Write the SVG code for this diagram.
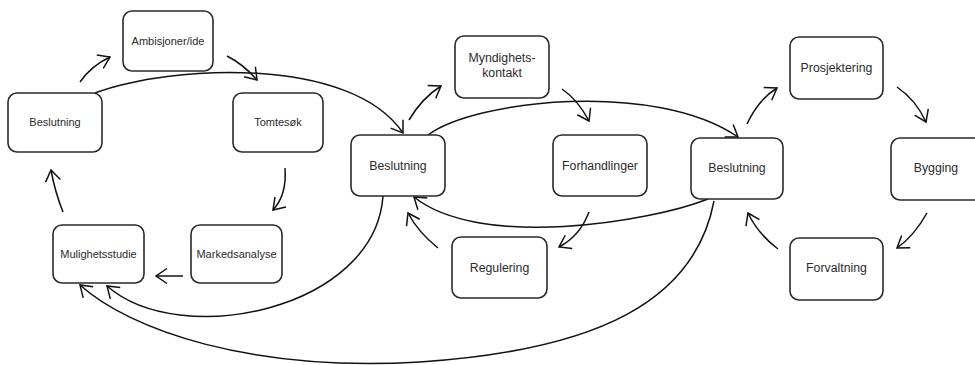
<svg xmlns="http://www.w3.org/2000/svg" width="975" height="365" viewBox="0 0 975 365">
  <defs>
    <style>
      .box { fill: #ffffff; stroke: #2a2a2a; stroke-width: 1.6; }
      .lbl { font-family: "Liberation Sans", Arial, sans-serif; fill: #2b2b2b; text-anchor: middle; }
      .sm { font-size: 11px; }
      .md { font-size: 12.3px; }
      .link { fill: none; stroke: #111111; stroke-width: 1.5; marker-end: url(#head); }
    </style>
    <marker id="head" viewBox="-13 -9 15 18" markerWidth="15" markerHeight="18" refX="0" refY="0" orient="auto" markerUnits="userSpaceOnUse" overflow="visible">
      <path d="M-11,-7.5 L0,0 L-11,7.5" fill="none" stroke="#111111" stroke-width="1.5" stroke-linejoin="miter"/>
    </marker>
  </defs>

  <rect width="975" height="365" fill="#ffffff"/>

  <!-- connectors -->
  <g id="connectors">
    <!-- first loop -->
    <path class="link" d="M80,82 Q91,66 110,57"/>
    <path class="link" d="M227,56 Q243,64 257,80"/>
    <path class="link" d="M285,168 Q287,195 273,210"/>
    <path class="link" d="M183,276 L156,276"/>
    <path class="link" d="M63,212 Q55,192 51,170"/>
    <path class="link" d="M95,93 C170,65 350,55 403,133"/>
    <!-- second loop -->
    <path class="link" d="M409,120 Q422,98 441,86"/>
    <path class="link" d="M562,89 Q578,100 589,121"/>
    <path class="link" d="M589,212 Q580,236 559,247"/>
    <path class="link" d="M438,248 Q418,232 408,213"/>
    <path class="link" d="M428,135 C475,100 655,80 738,137"/>
    <path class="link" d="M708,199 C650,222 480,250 414,197"/>
    <path class="link" d="M383,196 C375,310 180,350 107,286"/>
    <!-- third loop -->
    <path class="link" d="M747,124 Q758,100 777,88"/>
    <path class="link" d="M897,87 Q916,100 926,122"/>
    <path class="link" d="M927,213 Q914,236 897,248"/>
    <path class="link" d="M778,249 Q758,234 748,213"/>
    <path class="link" d="M714,201 C695,300 600,350 420,362 C250,372 130,330 80,285"/>
  </g>

  <!-- nodes: first loop -->
  <g id="ambisjoner">
    <rect class="box" x="123" y="11" width="90" height="60" rx="9"/>
    <text class="lbl sm" x="168" y="44.5">Ambisjoner/ide</text>
  </g>
  <g id="beslutning-1">
    <rect class="box" x="8" y="93" width="94" height="59" rx="9"/>
    <text class="lbl sm" x="55" y="126">Beslutning</text>
  </g>
  <g id="tomtesok">
    <rect class="box" x="233" y="93" width="90" height="59" rx="9"/>
    <text class="lbl sm" x="278" y="126">Tomtesøk</text>
  </g>
  <g id="mulighetsstudie">
    <rect class="box" x="53" y="225" width="91" height="58" rx="9"/>
    <text class="lbl sm" x="98.5" y="257.5">Mulighetsstudie</text>
  </g>
  <g id="markedsanalyse">
    <rect class="box" x="191" y="225" width="91" height="58" rx="9"/>
    <text class="lbl sm" x="236.5" y="257.5">Markedsanalyse</text>
  </g>

  <!-- nodes: second loop -->
  <g id="beslutning-2">
    <rect class="box" x="351" y="135" width="94" height="61" rx="9"/>
    <text class="lbl md" x="398" y="169.5">Beslutning</text>
  </g>
  <g id="myndighetskontakt">
    <rect class="box" x="455" y="36" width="94" height="62" rx="9"/>
    <text class="lbl md" x="502" y="62">Myndighets-</text>
    <text class="lbl md" x="502" y="77">kontakt</text>
  </g>
  <g id="forhandlinger">
    <rect class="box" x="553" y="135" width="94" height="61" rx="9"/>
    <text class="lbl md" x="600" y="169.5">Forhandlinger</text>
  </g>
  <g id="regulering">
    <rect class="box" x="452" y="237" width="95" height="61" rx="9"/>
    <text class="lbl md" x="499.5" y="271.5">Regulering</text>
  </g>

  <!-- nodes: third loop -->
  <g id="beslutning-3">
    <rect class="box" x="691" y="138" width="92" height="61" rx="9"/>
    <text class="lbl md" x="737" y="172">Beslutning</text>
  </g>
  <g id="prosjektering">
    <rect class="box" x="790" y="37" width="93" height="62" rx="9"/>
    <text class="lbl md" x="836.5" y="71.5">Prosjektering</text>
  </g>
  <g id="bygging">
    <rect class="box" x="891" y="138" width="93" height="62" rx="9"/>
    <text class="lbl md" x="936" y="172">Bygging</text>
  </g>
  <g id="forvaltning">
    <rect class="box" x="790" y="238" width="93" height="62" rx="9"/>
    <text class="lbl md" x="836.5" y="272">Forvaltning</text>
  </g>
</svg>
